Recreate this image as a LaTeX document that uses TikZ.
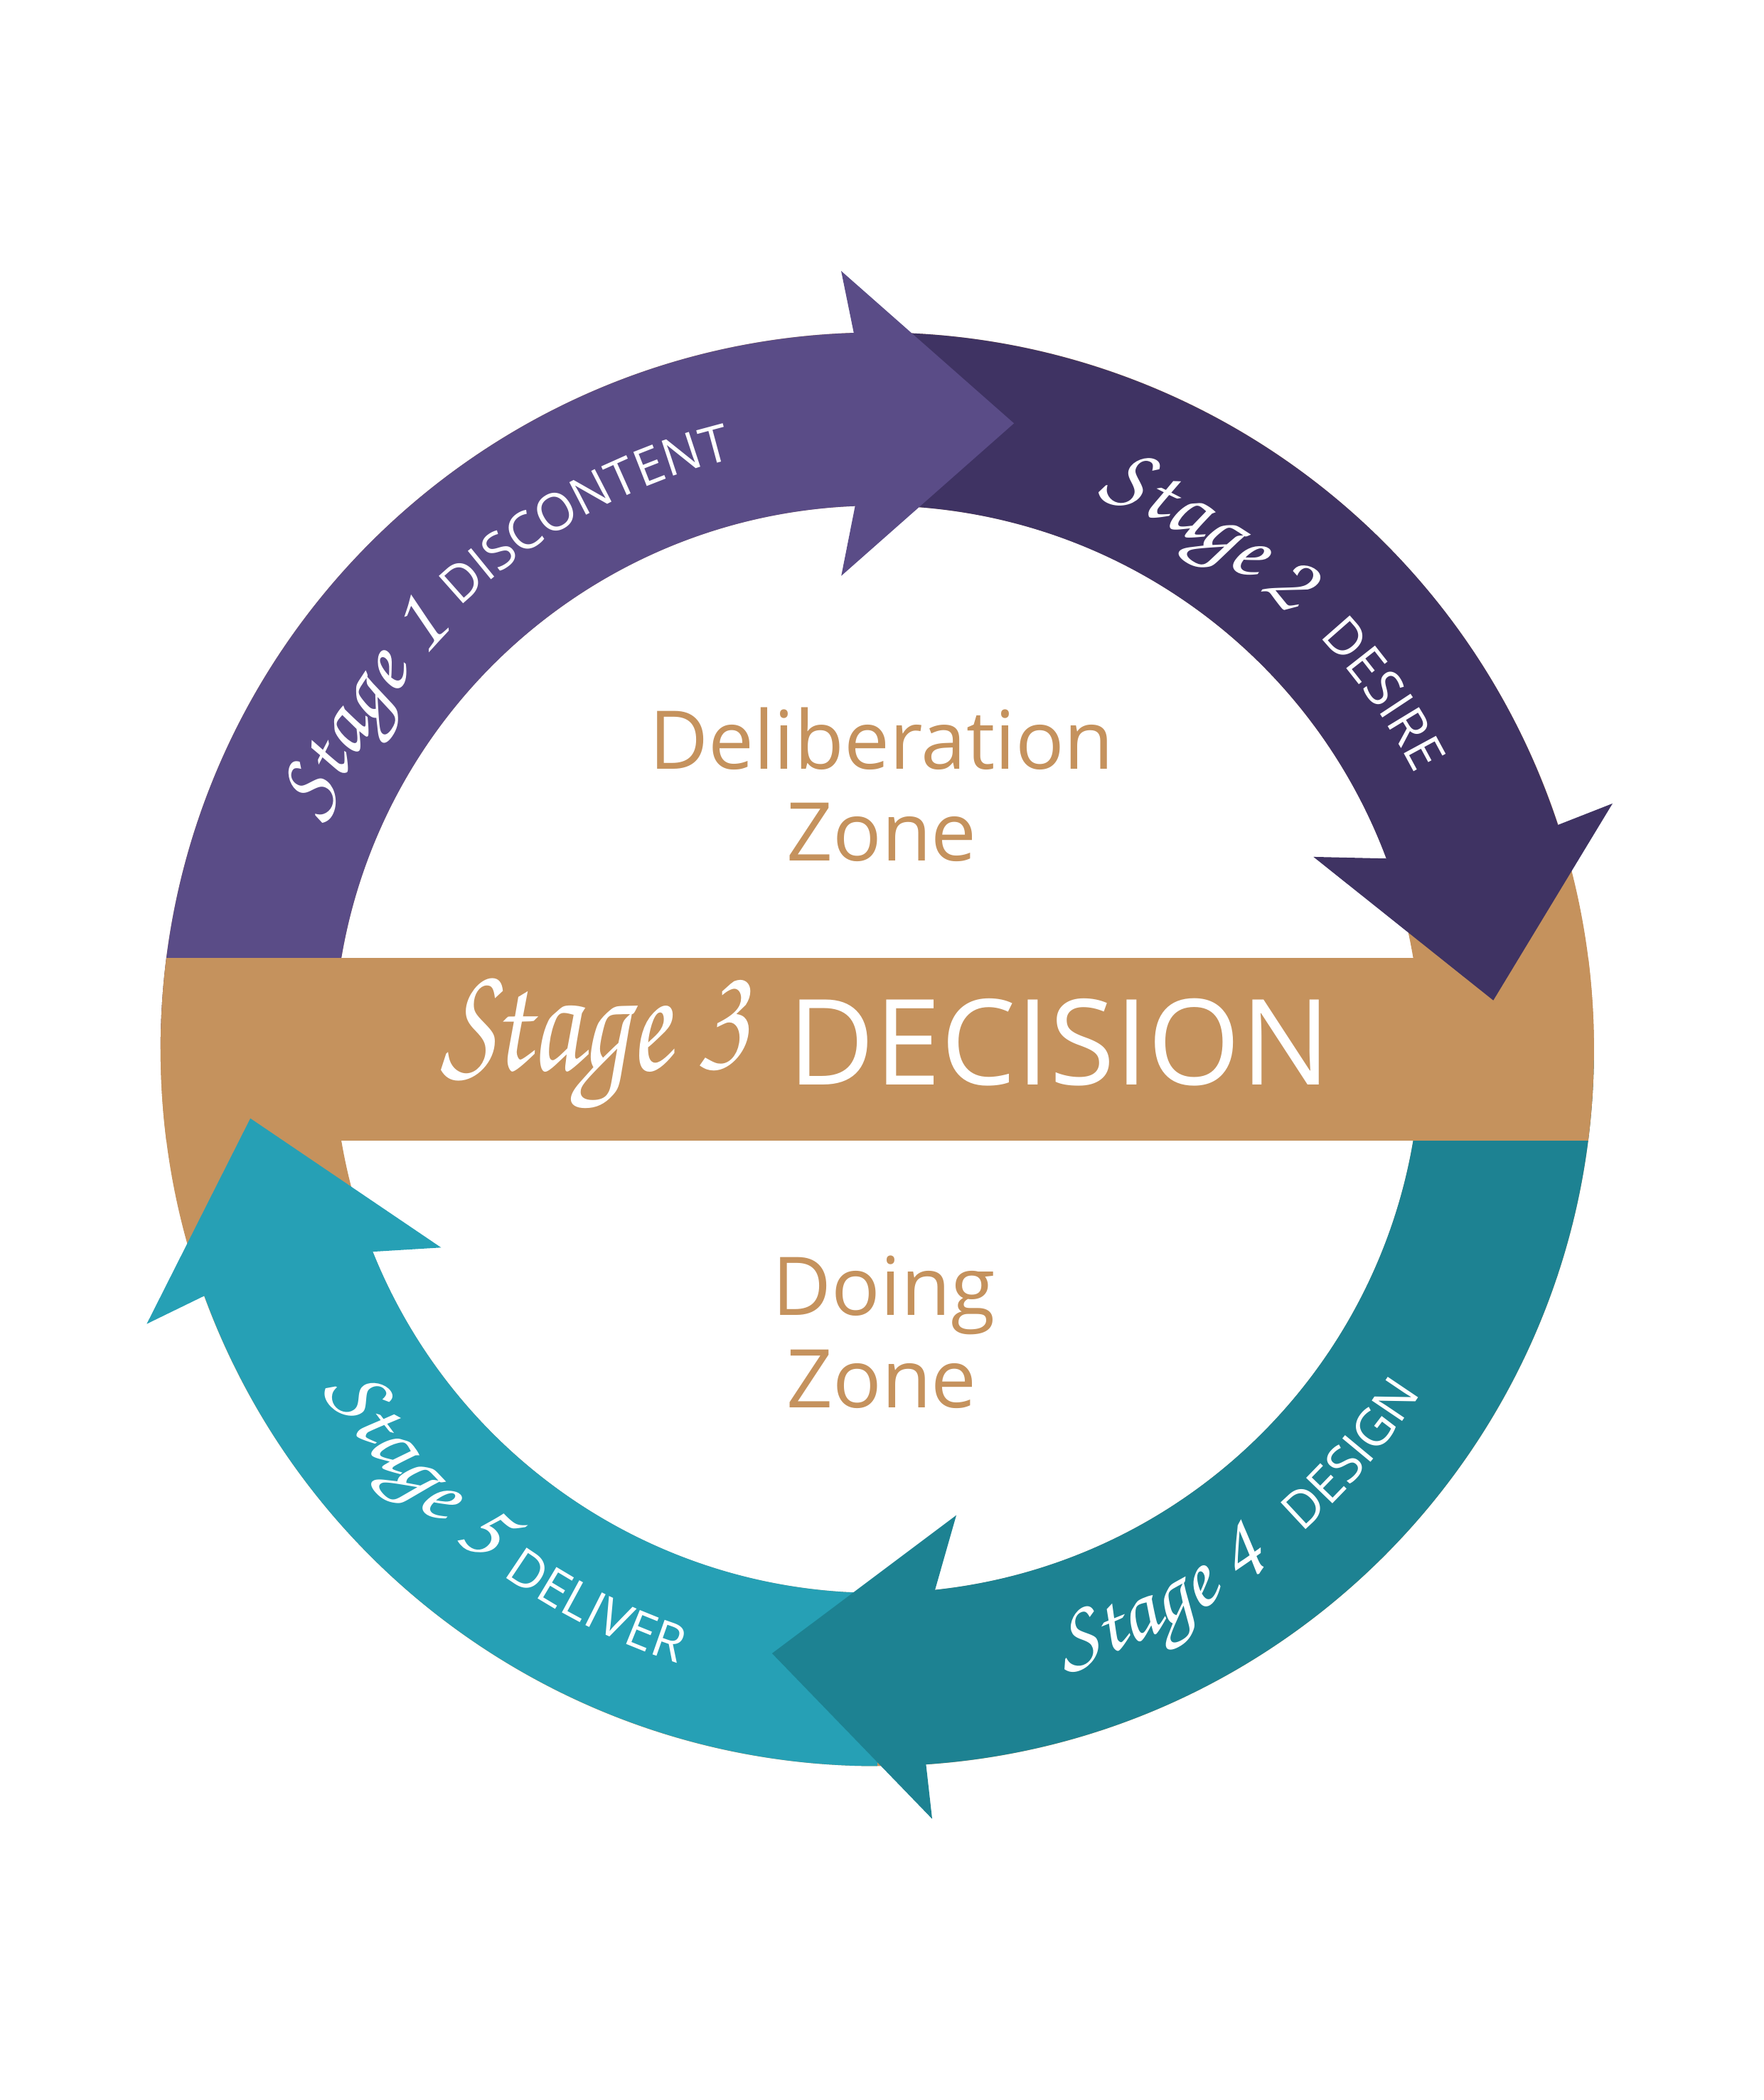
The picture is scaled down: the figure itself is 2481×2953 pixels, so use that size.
\documentclass[tikz,border=0pt]{standalone}
\usepackage{fontspec}
\setmainfont{Open Sans}
\newfontfamily\chorus{texgyrechorus-mediumitalic.otf}
\usetikzlibrary{decorations.text}
\definecolor{pone}{RGB}{90,76,135}
\definecolor{ptwo}{RGB}{63,51,99}
\definecolor{gold}{RGB}{197,146,93}
\definecolor{tfour}{RGB}{29,130,146}
\definecolor{tfive}{RGB}{38,160,181}
\newcommand{\capsfont}{\fontsize{20.5}{24}\selectfont\color{white}}
\newcommand{\ringscr}{\chorus\fontsize{36}{40}\selectfont\color{white}}
\newcommand{\ringseg}[3]{\fill[#1] (#2:1008) arc[start angle=#2, end angle=#3, radius=1008] -- (#3:764.5) arc[start angle=#3, end angle=#2, radius=764.5] -- cycle;}
\newcommand{\cwtext}[4]{\path[decorate, decoration={text along path, text={|#3|#4}}] (#2:#1) arc[start angle=#2, delta angle=-50, radius=#1];}
\newcommand{\ccwtext}[4]{\path[decorate, decoration={text along path, text={|#3|#4}}] (#2:#1) arc[start angle=#2, delta angle=50, radius=#1];}
\tikzset{
  zonetext/.style={inner sep=0, anchor=base, text=gold, font=\fontsize{32.4}{36}\selectfont},
  bandtext/.style={inner sep=0, anchor=base west, text=white}
}
\begin{document}
\begin{tikzpicture}[x=0.01cm,y=0.01cm]
\fill[white] (0,0) rectangle (2481,2953);
\useasboundingbox (0,0) rectangle (2481,2953);
\begin{scope}[shift={(1233.85,1477.5)}]
  % gold ring
  \fill[gold, even odd rule] (0,0) circle[radius=1008] (0,0) circle[radius=764.5];
  % ring bodies
  \ringseg{pone}{180}{91.6}
  \ringseg{ptwo}{90}{18}
  \ringseg{tfour}{0}{-86.4}
  \ringseg{tfive}{270}{199.8}
  % decision band
  \begin{scope}
    \clip (0,0) circle[radius=1008];
    \fill[gold] (-1010,-128.5) rectangle (1010,128.5);
  \end{scope}
  % arrowheads
  \fill[pone] (91.88:1008) -- (92.66:1095.7) -- (77.68:901) -- (94.35:667.7) -- (92.34:764.5) -- cycle;
  \fill[ptwo] (18.24:1008) -- (18.48:1090.4) -- (4.54:869.2) -- (23.8:670.5) -- (20.54:764.5) -- cycle;
  \fill[tfour] (-86.1:1008) -- (-85.92:1085) -- (-99.88:862.3) -- (-80.37:664.6) -- (-83.9:764.5) -- cycle;
  \fill[tfive] (200.12:1008) -- (200.6:1097.7) -- (186.29:887.1) -- (204.44:673.9) -- (201.86:764.5) -- cycle;
  % ring labels
  \cwtext{842}{157.8}{\ringscr}{Stage}
  \cwtext{842}{139.2}{\ringscr}{1}
  \cwtext{855}{133.4}{\capsfont}{DISCONTENT}
  \cwtext{842}{68.3}{\ringscr}{Stage}
  \cwtext{842}{50.4}{\ringscr}{2}
  \cwtext{850}{43.05}{\capsfont}{DESIRE}
  \ccwtext{910}{-73.2}{\ringscr}{Stage}
  \ccwtext{910}{-56.0}{\ringscr}{4}
  \ccwtext{905}{-48.7}{\capsfont}{DESIGN}
  \ccwtext{910}{211.6}{\ringscr}{Stage}
  \ccwtext{910}{229.0}{\ringscr}{5}
  \ccwtext{908}{234.5}{\capsfont}{DELIVER}
\end{scope}
\node[zonetext] (delib) at (1240,1871.3) {Deliberation};
\node[zonetext] (delibzone) at (1240,1742.3) {Zone};
\node[zonetext] (doing) at (1243,1103) {Doing};
\node[zonetext] (doingzone) at (1240,973.7) {Zone};
\node[bandtext, font=\chorus\fontsize{48}{52}\selectfont] (stagethree) at (620,1448) {\scalebox{1}[1.3]{Stage 3}};
\node[bandtext, font=\fontsize{47.6}{52}\selectfont] (decision) at (1108,1427.3) {DECISION};
\end{tikzpicture}
\end{document}
